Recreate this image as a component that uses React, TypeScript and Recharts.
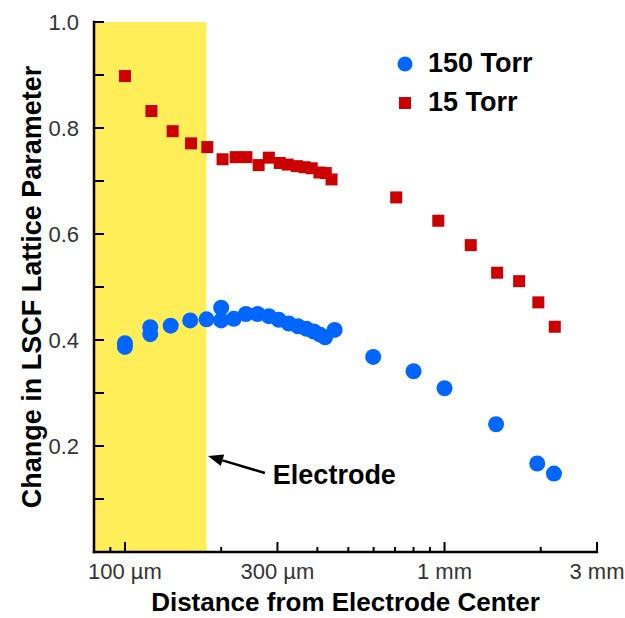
import {
  ScatterChart,
  Scatter,
  XAxis,
  YAxis,
  ReferenceArea,
  ReferenceLine,
  Legend,
  Label,
} from "recharts";

const FONT = '"Liberation Sans", Arial, Helvetica, sans-serif';
const BLUE = "#0066FF";
const RED = "#CC0000";
const YELLOW = "#FFEE58";

// 150 Torr: distance from electrode center (µm) / change in lattice parameter
const torr150X = [
  100, 100, 120, 120, 139, 160, 180, 200, 200, 219, 239, 260, 282, 303, 326, 348,
  370, 390, 408, 423, 453, 598, 800, 1000, 1450, 1950, 2200,
];
const torr150Y = [
  0.394, 0.387, 0.424, 0.411, 0.427, 0.437, 0.439, 0.461, 0.437, 0.44, 0.449, 0.449,
  0.445, 0.438, 0.431, 0.426, 0.421, 0.416, 0.41, 0.405, 0.419, 0.368, 0.341, 0.309,
  0.241, 0.167, 0.148,
];

// 15 Torr
const torr15X = [
  100, 121, 141, 161, 181, 202, 222, 240, 262, 282, 305, 323, 345, 365, 384, 406,
  425, 443, 706, 956, 1208, 1461, 1712, 1966, 2213,
];
const torr15Y = [
  0.898, 0.832, 0.794, 0.771, 0.764, 0.741, 0.745, 0.745, 0.73, 0.744, 0.734, 0.731,
  0.728, 0.726, 0.724, 0.716, 0.715, 0.703, 0.669, 0.625, 0.579, 0.527, 0.511, 0.471,
  0.425,
];

const xDomain = [80, 3000];
const xTicks = [90, 100, 200, 300, 400, 500, 600, 700, 800, 900, 1000, 2000, 3000];
const xTickLabels = ["", "100 µm", "", "300 µm", "", "", "", "", "", "", "1 mm", "", "3 mm"];

const yTicks = [0.1, 0.2, 0.3, 0.4, 0.5, 0.6, 0.7, 0.8, 0.9, 1.0];
const yTickLabels = ["", "0.2", "", "0.4", "", "0.6", "", "0.8", "", "1.0"];

// electrode footprint and the arrow pointing at its edge
const electrodeEdge = 180;
const arrowFrom = { x: 274, y: 0.149 };
const arrowTo = { x: 182, y: 0.181 };

const data150 = torr150X.map((x, i) => ({ x, y: torr150Y[i] }));
const data15 = torr15X.map((x, i) => ({ x, y: torr15Y[i] }));

const legendItems = [
  { name: "150 Torr", color: BLUE, square: false },
  { name: "15 Torr", color: RED, square: true },
];

function XTick(props: any) {
  const { x, y, index } = props;
  const label = xTickLabels[index];
  return (
    <g>
      <line x1={x} x2={x} y1={y} y2={y - (label ? 10 : 5)} stroke="#000" strokeWidth={2} />
      {label && (
        <text x={x} y={y + 27} textAnchor="middle" fontSize={22} fill="#333" fontFamily={FONT}>
          {label}
        </text>
      )}
    </g>
  );
}

function YTick(props: any) {
  const { x, y, index } = props;
  const label = yTickLabels[index];
  return (
    <g>
      <line x1={x} x2={x + 10} y1={y} y2={y} stroke="#000" strokeWidth={2} />
      {label && (
        <text
          x={x - 15}
          y={y}
          textAnchor="end"
          dominantBaseline="central"
          fontSize={22}
          fill="#333"
          fontFamily={FONT}
        >
          {label}
        </text>
      )}
    </g>
  );
}

const dot = (props: any) => <circle cx={props.cx} cy={props.cy} r={8} fill={BLUE} />;
const square = (props: any) => (
  <rect x={props.cx - 6} y={props.cy - 6} width={12} height={12} fill={RED} />
);

function Arrow(props: any) {
  const { x1, y1, x2, y2 } = props;
  const ang = Math.atan2(y2 - y1, x2 - x1);
  const len = 15;
  const half = 6;
  const bx = x2 - len * Math.cos(ang);
  const by = y2 - len * Math.sin(ang);
  const px = -Math.sin(ang) * half;
  const py = Math.cos(ang) * half;
  return (
    <g>
      <line x1={x1} y1={y1} x2={bx} y2={by} stroke="#000" strokeWidth={2.5} />
      <polygon points={`${x2},${y2} ${bx + px},${by + py} ${bx - px},${by - py}`} fill="#000" />
      <text
        x={x1 + 8}
        y={y1 + 2}
        dominantBaseline="central"
        fontSize={27}
        fontWeight="bold"
        fontFamily={FONT}
        fill="#000"
      >
        Electrode
      </text>
    </g>
  );
}

function LegendBox() {
  return (
    <div style={{ fontFamily: FONT }}>
      {legendItems.map((item) => (
        <div key={item.name} style={{ display: "flex", alignItems: "center", height: 39 }}>
          <svg width={16} height={16}>
            {item.square ? (
              <rect x={2} y={2} width={12} height={12} fill={item.color} />
            ) : (
              <circle cx={8} cy={8} r={7.5} fill={item.color} />
            )}
          </svg>
          <span style={{ marginLeft: 15, fontSize: 27, fontWeight: "bold", color: "#000" }}>
            {item.name}
          </span>
        </div>
      ))}
    </div>
  );
}

export default function App() {
  return (
    <div style={{ position: "absolute", left: 0, top: 0, background: "#fff" }}>
      <ScatterChart width={625} height={618} margin={{ top: 22, right: 28, left: 0, bottom: 0 }}>
        <ReferenceArea
          x1={xDomain[0]}
          x2={electrodeEdge}
          y1={0}
          y2={1}
          fill={YELLOW}
          fillOpacity={1}
          stroke="none"
        />
        <XAxis
          type="number"
          dataKey="x"
          scale="log"
          domain={xDomain}
          ticks={xTicks}
          interval={0}
          allowDataOverflow
          height={66}
          tickSize={0}
          tickMargin={0}
          tick={<XTick />}
          axisLine={{ stroke: "#000", strokeWidth: 2.5, strokeLinecap: "square" }}
        >
          <Label
            content={(p: any) => (
              <text
                x={p.viewBox.x + p.viewBox.width / 2}
                y={p.viewBox.y + 59}
                textAnchor="middle"
                fontSize={26}
                fontWeight="bold"
                fontFamily={FONT}
                fill="#000"
              >
                Distance from Electrode Center
              </text>
            )}
          />
        </XAxis>
        <YAxis
          type="number"
          dataKey="y"
          domain={[0, 1]}
          ticks={yTicks}
          interval={0}
          width={94}
          tickSize={0}
          tickMargin={0}
          tick={<YTick />}
          axisLine={{ stroke: "#000", strokeWidth: 2.5, strokeLinecap: "square" }}
        >
          <Label
            content={(p: any) => {
              const cx = p.viewBox.x + 32;
              const cy = p.viewBox.y + p.viewBox.height / 2;
              return (
                <text
                  x={cx}
                  y={cy}
                  transform={`rotate(-90 ${cx} ${cy})`}
                  textAnchor="middle"
                  dominantBaseline="central"
                  fontSize={27}
                  fontWeight="bold"
                  fontFamily={FONT}
                  fill="#000"
                >
                  Change in LSCF Lattice Parameter
                </text>
              );
            }}
          />
        </YAxis>
        <ReferenceLine segment={[arrowFrom, arrowTo]} shape={<Arrow />} />
        <Scatter name="15 Torr" data={data15} shape={square} isAnimationActive={false} />
        <Scatter name="150 Torr" data={data150} shape={dot} isAnimationActive={false} />
        <Legend
          layout="vertical"
          align="center"
          verticalAlign="middle"
          content={<LegendBox />}
          wrapperStyle={{ left: 397, top: 44, width: "auto" }}
        />
      </ScatterChart>
    </div>
  );
}
